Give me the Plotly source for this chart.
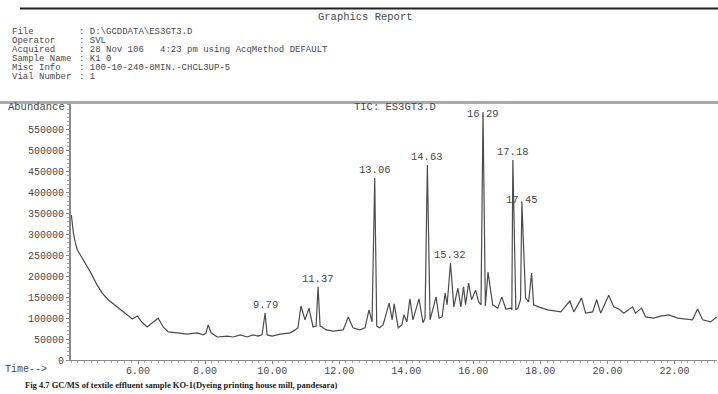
import plotly.graph_objects as go

# ---------------- data ----------------
times = [4.01, 4.04, 4.07, 4.13, 4.19, 4.28, 4.43, 4.58, 4.78, 4.93, 5.11, 5.38, 5.62, 5.83, 5.98,
         6.13, 6.27, 6.45, 6.60, 6.75, 6.90, 7.17, 7.47, 7.76, 7.94, 8.03, 8.09, 8.18, 8.36, 8.66,
         8.84, 9.05, 9.25, 9.43, 9.58, 9.70, 9.79, 9.85, 10.00, 10.24, 10.54, 10.69, 10.77, 10.86,
         10.95, 10.98, 11.10, 11.22, 11.31, 11.37, 11.43, 11.49, 11.61, 11.82, 12.12, 12.27, 12.41,
         12.62, 12.77, 12.89, 12.98, 13.06, 13.12, 13.20, 13.31, 13.49, 13.58, 13.64, 13.76, 13.87,
         13.93, 14.02, 14.11, 14.20, 14.38, 14.50, 14.56, 14.63, 14.71, 14.89, 14.98, 15.07, 15.16,
         15.22, 15.32, 15.42, 15.54, 15.63, 15.71, 15.77, 15.86, 15.95, 16.07, 16.16, 16.23, 16.29,
         16.36, 16.44, 16.58, 16.73, 16.85, 16.97, 17.12, 17.15, 17.18, 17.27, 17.33, 17.41, 17.45,
         17.56, 17.65, 17.74, 17.80, 17.95, 18.22, 18.61, 18.88, 19.00, 19.23, 19.35, 19.56, 19.68,
         19.80, 20.04, 20.19, 20.34, 20.49, 20.75, 20.84, 21.02, 21.14, 21.38, 21.59, 21.83, 22.10,
         22.40, 22.54, 22.69, 22.84, 23.08, 23.26]
abundance = [347000, 323000, 304000, 280000, 263000, 251000, 232000, 210000, 179000, 160000,
             144000, 127000, 112000, 98000, 105000, 89000, 79000, 91000, 100000, 79000, 67000,
             65000, 62000, 65000, 60000, 65000, 84000, 65000, 55000, 57000, 55000, 60000, 55000,
             60000, 57000, 60000, 112000, 60000, 57000, 62000, 65000, 72000, 77000, 129000, 100000,
             96000, 124000, 79000, 81000, 175000, 81000, 79000, 72000, 69000, 72000, 103000, 77000,
             72000, 77000, 120000, 91000, 435000, 81000, 77000, 84000, 136000, 96000, 134000, 77000,
             84000, 108000, 91000, 146000, 96000, 146000, 89000, 100000, 466000, 96000, 151000,
             100000, 103000, 160000, 132000, 232000, 127000, 172000, 127000, 175000, 132000, 184000,
             144000, 167000, 139000, 132000, 593000, 129000, 210000, 132000, 124000, 151000, 122000,
             124000, 120000, 478000, 120000, 124000, 144000, 376000, 148000, 139000, 208000, 132000,
             127000, 120000, 115000, 141000, 115000, 148000, 112000, 115000, 144000, 112000, 155000,
             127000, 122000, 112000, 127000, 112000, 124000, 103000, 100000, 105000, 108000, 100000,
             98000, 96000, 122000, 96000, 91000, 103000]

peak_times = [9.79, 11.37, 13.06, 14.63, 15.32, 16.29, 17.18, 17.45]
peak_labels = ["9.79", "11.37", "13.06", "14.63", "15.32", "16.29", "17.18", "17.45"]

x_tick_values = [6, 8, 10, 12, 14, 16, 18, 20, 22]
x_tick_text = ["6.00", "8.00", "10.00", "12.00", "14.00", "16.00", "18.00", "20.00", "22.00"]
y_tick_values = [0, 50000, 100000, 150000, 200000, 250000, 300000, 350000, 400000, 450000,
                 500000, 550000]
y_tick_text = ["0", "50000", "100000", "150000", "200000", "250000", "300000", "350000",
               "400000", "450000", "500000", "550000"]

header_labels = ["File", "Operator", "Acquired", "Sample Name", "Misc Info", "Vial Number"]
header_values = [r": D:\GCDDATA\ES3GT3.D", ": SVL",
                 ": 28 Nov 106   4:23 pm using AcqMethod DEFAULT", ": K1 0",
                 ": 100-10-240-8MIN.-CHCL3UP-5", ": 1"]
report_title = "Graphics Report"
tic_title = "TIC: ES3GT3.D"
caption = "Fig 4.7 GC/MS of textile effluent sample KO-1(Dyeing printing house mill, pandesara)"

# ---------------- geometry / style ----------------
W, H = 718, 394
L, R, T, B = 71, 1, 104, 34
PW, PH = W - L - R, H - T - B
MONO = "Liberation Mono, Courier New, monospace"
TXT = "#4a4a4a"


def px(x):
    return (x - L) / PW


def py(y):
    return (H - B - y) / PH


def nb(s):
    return s.replace(" ", "\u00a0")


fig = go.Figure()
fig.add_trace(go.Scatter(x=times, y=abundance, mode="lines",
                         line=dict(color="#4d4d4d", width=1.2), hoverinfo="skip",
                         showlegend=False))

ann = []
# peak labels, positioned from the data; some labels sit across their peak tip
label_anchor = {"16.29": ("middle", -2), "17.45": ("middle", 3)}
for t, lab in zip(peak_times, peak_labels):
    h = abundance[times.index(t)]
    anc, shift = label_anchor.get(lab, ("bottom", 0))
    ann.append(dict(x=t, y=h, xref="x", yref="y", text=lab, showarrow=False,
                    yanchor=anc, yshift=shift,
                    font=dict(family=MONO, size=10.5, color=TXT)))

# header block
ann.append(dict(x=px(365), y=py(17), xref="paper", yref="paper", text=nb(report_title),
                showarrow=False, xanchor="center", yanchor="middle",
                font=dict(family=MONO, size=10.5, color=TXT)))
row_y = [32, 41, 50, 59, 68, 77]
for lab, val, yy in zip(header_labels, header_values, row_y):
    ann.append(dict(x=px(10), y=py(yy), xref="paper", yref="paper", text=nb(lab),
                    showarrow=False, xanchor="left", yanchor="middle",
                    font=dict(family=MONO, size=9, color=TXT)))
    ann.append(dict(x=px(77), y=py(yy), xref="paper", yref="paper", text=nb(val),
                    showarrow=False, xanchor="left", yanchor="middle",
                    font=dict(family=MONO, size=9, color=TXT)))

ann.append(dict(x=px(6), y=py(107), xref="paper", yref="paper", text="Abundance",
                showarrow=False, xanchor="left", yanchor="middle",
                font=dict(family=MONO, size=10.5, color=TXT)))
ann.append(dict(x=px(395), y=py(107), xref="paper", yref="paper", text=nb(tic_title),
                showarrow=False, xanchor="center", yanchor="middle",
                font=dict(family=MONO, size=10.5, color=TXT)))
ann.append(dict(x=px(3), y=py(369), xref="paper", yref="paper", text=nb("Time-->"),
                showarrow=False, xanchor="left", yanchor="middle",
                font=dict(family=MONO, size=10, color=TXT)))
ann.append(dict(x=px(23), y=py(385), xref="paper", yref="paper", text="<b>" + caption + "</b>",
                showarrow=False, xanchor="left", yanchor="middle",
                font=dict(family="Liberation Serif, serif", size=8.5, color="#222")))

shapes = [
    dict(type="line", xref="paper", yref="paper", x0=px(20), x1=px(718), y0=py(8.5), y1=py(8.5),
         line=dict(color="#222", width=2)),
    dict(type="line", xref="paper", yref="paper", x0=px(0), x1=px(718), y0=py(102.5), y1=py(102.5),
         line=dict(color="#aaaaaa", width=3)),
]

fig.update_layout(
    width=W, height=H, autosize=False,
    margin=dict(l=L, r=R, t=T, b=B, pad=0),
    paper_bgcolor="white", plot_bgcolor="white",
    annotations=ann, shapes=shapes, showlegend=False,
    xaxis=dict(range=[4.0, 23.27], tickmode="array", tickvals=x_tick_values, ticktext=x_tick_text,
               showgrid=False, zeroline=False, showline=True, linecolor="#8a8a8a", linewidth=1,
               ticks="outside", ticklen=3, tickcolor="#8a8a8a", ticklabelstandoff=-2,
               minor=dict(ticks="outside", ticklen=2, tickcolor="#aaaaaa", dtick=0.2, tick0=0),
               tickfont=dict(family=MONO, size=10, color=TXT)),
    yaxis=dict(range=[0, 612000], tickmode="array", tickvals=y_tick_values, ticktext=y_tick_text,
               showgrid=False, zeroline=False, showline=True, linecolor="#8a8a8a", linewidth=2,
               ticks="outside", ticklen=3, tickcolor="#8a8a8a",
               minor=dict(ticks="outside", ticklen=2, tickcolor="#aaaaaa", dtick=10000, tick0=0),
               tickfont=dict(family=MONO, size=10, color=TXT)),
)

fig.write_html("out.html")
